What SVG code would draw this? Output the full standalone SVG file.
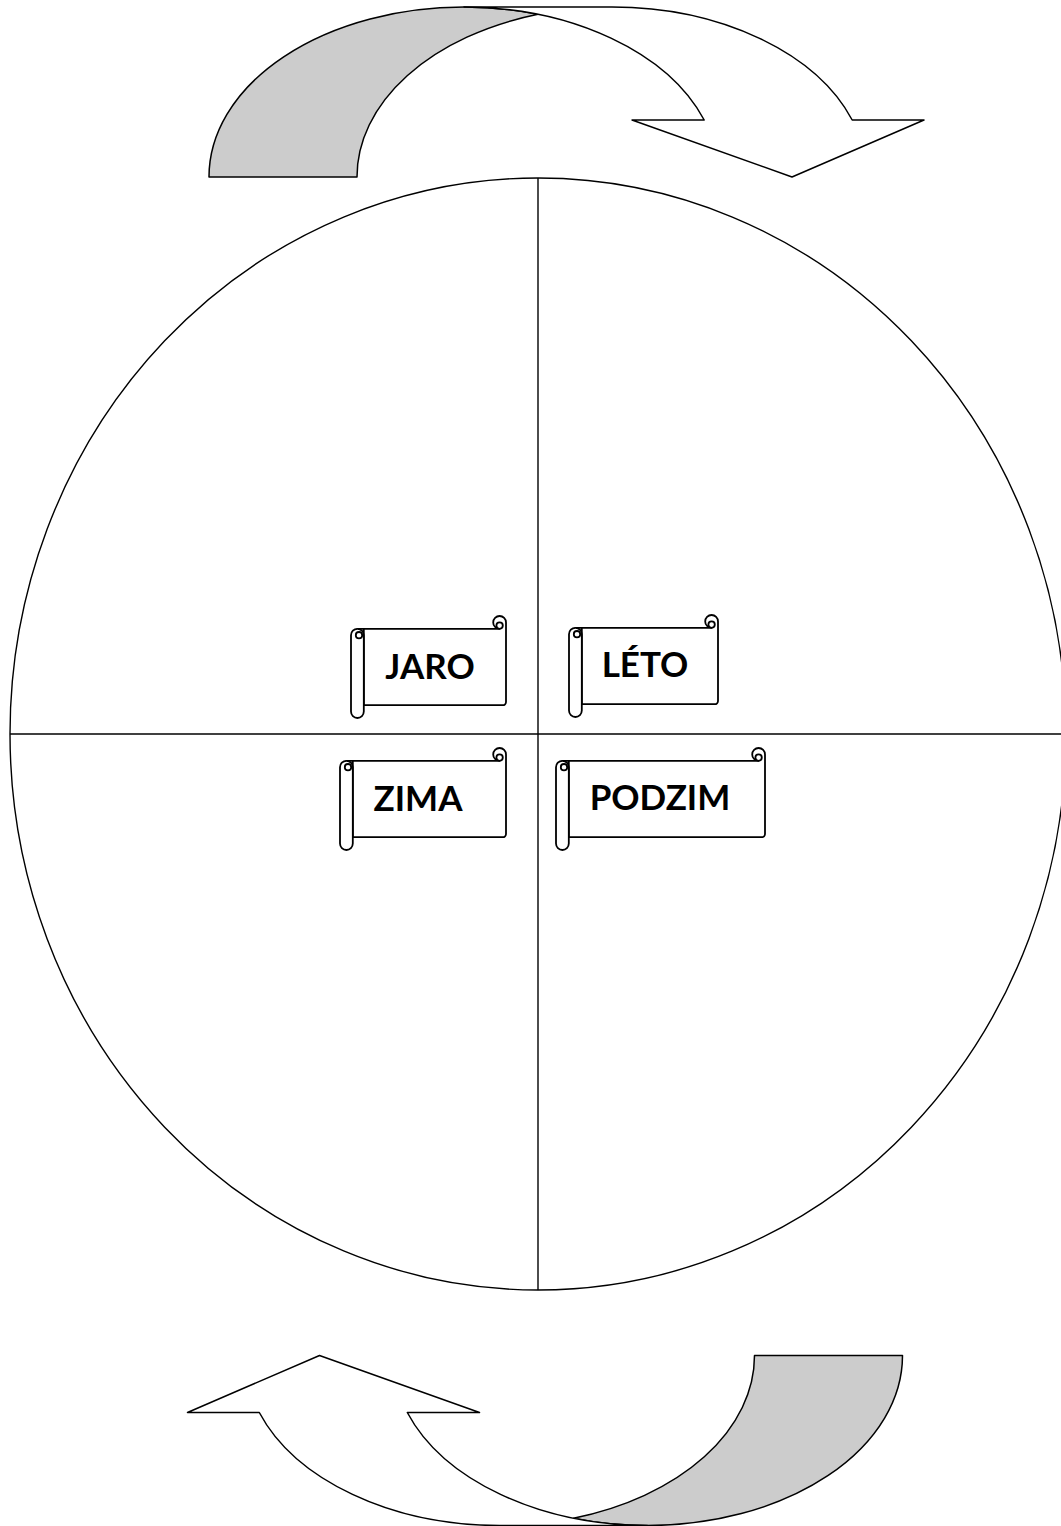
<svg xmlns="http://www.w3.org/2000/svg" width="1061" height="1526" viewBox="0 0 1061 1526">
<defs>
<style>
.ln{fill:none;stroke:#000;stroke-width:1.4}
.gray{fill:#cccccc;stroke:#000;stroke-width:1.5;stroke-linejoin:round}
.wh{fill:#ffffff;stroke:#000;stroke-width:1.5;stroke-linejoin:round}
.sc{fill:#ffffff;stroke:#000;stroke-width:1.8;stroke-linejoin:round}
.lbl{font-family:Lato,"Open Sans","Liberation Sans",sans-serif;font-weight:700;font-size:35px;fill:#000;text-anchor:middle}
</style>
<g id="arrowShape">
<path class="gray" d="M209,177 A255,170 0 0 1 464,7 A255,170 0 0 1 538,14.3 A255,170 0 0 0 357,177 Z"/>
<path class="wh" d="M612,7 A255,170 0 0 1 852.2,120 L924,120 L792,177 L632,120 L704.2,120 A255,170 0 0 0 464,7 Z"/>
</g>
</defs>
<rect width="1061" height="1526" fill="#ffffff"/>
<g id="circle">
<ellipse class="ln" cx="538" cy="734" rx="528" ry="556"/>
<line class="ln" x1="538" y1="178" x2="538" y2="1290"/>
<line class="ln" x1="10" y1="734" x2="1066" y2="734"/>
</g>
<g id="connectors">
<use href="#arrowShape"/>
<use href="#arrowShape" transform="rotate(180 555.75 766.25)"/>
</g>
<g id="jaro">
<g transform="translate(351,616)">
<path class="sc" d="M6.4,12.8 H148.6 A6.4,6.4 0 1 1 155,6.4 V86 A3.2,3.2 0 0 1 151.8,89.2 H12.8 V12.8 Z"/>
<circle class="sc" cx="148.6" cy="9.6" r="3.2"/>
<path class="sc" d="M0,95.6 V19.2 A6.4,6.4 0 0 1 12.8,19.2 V95.6 A6.4,6.4 0 0 1 0,95.6 Z"/>
<circle class="sc" cx="8" cy="19.2" r="3.2"/>
</g>
<text class="lbl" x="430" y="679">JARO</text>
</g>
<g id="leto">
<g transform="translate(569,615)">
<path class="sc" d="M6.4,12.8 H142.6 A6.4,6.4 0 1 1 149,6.4 V86 A3.2,3.2 0 0 1 145.8,89.2 H12.8 V12.8 Z"/>
<circle class="sc" cx="142.6" cy="9.6" r="3.2"/>
<path class="sc" d="M0,95.6 V19.2 A6.4,6.4 0 0 1 12.8,19.2 V95.6 A6.4,6.4 0 0 1 0,95.6 Z"/>
<circle class="sc" cx="8" cy="19.2" r="3.2"/>
</g>
<text class="lbl" x="645" y="677">LÉTO</text>
</g>
<g id="zima">
<g transform="translate(340,748)">
<path class="sc" d="M6.4,12.8 H159.6 A6.4,6.4 0 1 1 166,6.4 V86 A3.2,3.2 0 0 1 162.8,89.2 H12.8 V12.8 Z"/>
<circle class="sc" cx="159.6" cy="9.6" r="3.2"/>
<path class="sc" d="M0,95.6 V19.2 A6.4,6.4 0 0 1 12.8,19.2 V95.6 A6.4,6.4 0 0 1 0,95.6 Z"/>
<circle class="sc" cx="8" cy="19.2" r="3.2"/>
</g>
<text class="lbl" x="418" y="811">ZIMA</text>
</g>
<g id="podzim">
<g transform="translate(556,748)">
<path class="sc" d="M6.4,12.8 H202.6 A6.4,6.4 0 1 1 209,6.4 V86 A3.2,3.2 0 0 1 205.8,89.2 H12.8 V12.8 Z"/>
<circle class="sc" cx="202.6" cy="9.6" r="3.2"/>
<path class="sc" d="M0,95.6 V19.2 A6.4,6.4 0 0 1 12.8,19.2 V95.6 A6.4,6.4 0 0 1 0,95.6 Z"/>
<circle class="sc" cx="8" cy="19.2" r="3.2"/>
</g>
<text class="lbl" x="660" y="810">PODZIM</text>
</g>
</svg>
